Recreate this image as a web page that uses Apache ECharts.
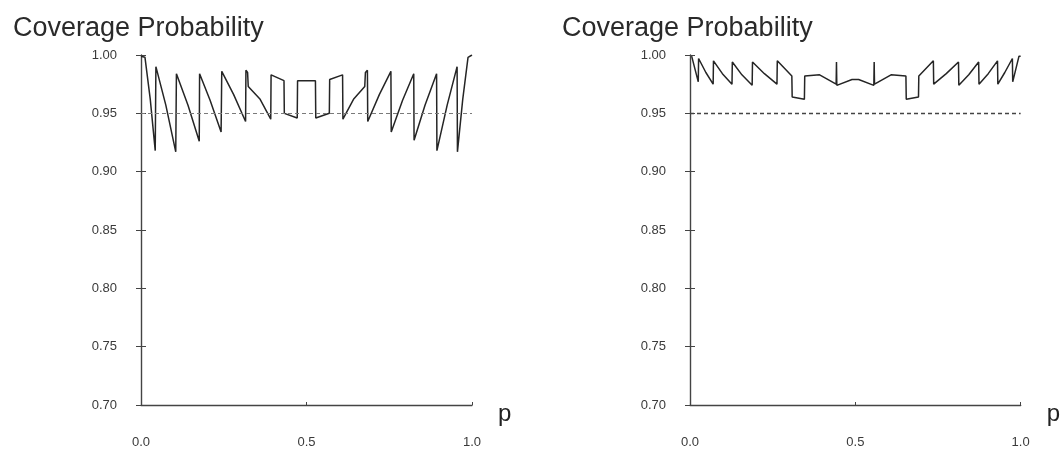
<!DOCTYPE html>
<html>
<head>
<meta charset="utf-8">
<script src="https://cdn.jsdelivr.net/npm/echarts@6/dist/echarts.min.js"></script>
<style>
html,body{margin:0;padding:0;background:#fff;}
#chart{width:1063px;height:455px;}
</style>
</head>
<body>
<div id="chart"></div>
<script>
// ---- data ----
var titleText = "Coverage Probability";
var xTickLabels = ["0.0", "0.5", "1.0"];
var nominal = 0.95;

// left panel: sawtooth coverage curve (p, coverage)
var leftP = [0.000, 0.012, 0.028, 0.043, 0.045, 0.075, 0.105, 0.107, 0.142, 0.176, 0.177, 0.209, 0.242, 0.244,
  0.280, 0.316, 0.317, 0.322, 0.324, 0.360, 0.392, 0.393, 0.432, 0.433, 0.472, 0.473, 0.527, 0.528,
  0.569, 0.570, 0.609, 0.610, 0.642, 0.676, 0.678, 0.684, 0.685, 0.720, 0.755, 0.756, 0.790, 0.824, 0.825,
  0.858, 0.893, 0.894, 0.925, 0.955, 0.956, 0.972, 0.988, 1.000];
var leftCov = [0.999, 0.998, 0.962, 0.918, 0.990, 0.957, 0.917, 0.984, 0.957, 0.926, 0.984, 0.961, 0.934, 0.986,
  0.966, 0.943, 0.987, 0.985, 0.973, 0.962, 0.945, 0.983, 0.978, 0.950, 0.946, 0.978, 0.978, 0.946,
  0.950, 0.979, 0.983, 0.945, 0.962, 0.973, 0.985, 0.987, 0.943, 0.966, 0.986, 0.934, 0.961, 0.984, 0.927,
  0.957, 0.984, 0.918, 0.957, 0.990, 0.917, 0.962, 0.998, 1.000];

// right panel: conservative coverage curve (p, coverage)
var rightP = [0.005, 0.025, 0.026, 0.048, 0.070, 0.071, 0.098, 0.127, 0.128, 0.157, 0.188, 0.189, 0.225, 0.263, 0.264,
  0.308, 0.309, 0.346, 0.347, 0.392, 0.442, 0.443, 0.444, 0.490, 0.510, 0.556, 0.557, 0.558, 0.608,
  0.653, 0.654, 0.691, 0.692, 0.736, 0.737, 0.775, 0.812, 0.813, 0.843, 0.873, 0.874, 0.902, 0.930, 0.931,
  0.952, 0.975, 0.976, 0.995, 1.000];
var rightCov = [0.999, 0.977, 0.997, 0.985, 0.975, 0.995, 0.984, 0.975, 0.994, 0.983, 0.974, 0.994, 0.984, 0.975, 0.995,
  0.982, 0.964, 0.962, 0.982, 0.983, 0.975, 0.994, 0.974, 0.979, 0.979, 0.974, 0.994, 0.975, 0.983,
  0.982, 0.962, 0.964, 0.982, 0.995, 0.975, 0.984, 0.994, 0.974, 0.983, 0.994, 0.975, 0.984, 0.995, 0.975,
  0.985, 0.997, 0.977, 0.999, 0.999];

function pairs(xs, ys){ return xs.map(function(x,i){ return [x, ys[i]]; }); }

var chart = echarts.init(document.getElementById('chart'), null, {renderer:'canvas'});
var textCol = '#3a3a3a';
var axisCol = '#444';
var fontFam = '"Liberation Sans", Arial, Helvetica, sans-serif';

function xAxisCfg(gi){
  return {
    type:'value', gridIndex:gi, min:0, max:1, interval:0.5,
    name:'p', nameLocation:'end', nameGap:26,
    nameTextStyle:{fontSize:24, color:'#222', fontFamily:fontFam, verticalAlign:'top', lineHeight:18, padding:[0,0,0,0]},
    axisLine:{lineStyle:{color:axisCol, width:1.4}},
    axisTick:{inside:true, length:3, lineStyle:{color:axisCol}},
    splitLine:{show:false},
    axisLabel:{margin:31, fontSize:13, color:textCol, fontFamily:fontFam,
      formatter:function(v){ return xTickLabels[Math.round(v/0.5)]; }}
  };
}
function yAxisCfg(gi, inside){
  return {
    type:'value', gridIndex:gi, position:'left', min:0.70, max:1.00, interval:0.05,
    axisLine:{show:!inside, lineStyle:{color:axisCol, width:1.4}},
    axisTick:{inside:inside, length:5, lineStyle:{color:axisCol}},
    splitLine:{show:false},
    axisLabel:{show:!inside, margin:24, fontSize:13, color:textCol, fontFamily:fontFam,
      formatter:function(v){ return v.toFixed(2); }}
  };
}
function lineSeries(xi, yi, data, dashCol, dashW){
  return {
    type:'line', xAxisIndex:xi, yAxisIndex:yi, data:data, symbol:'none',
    lineStyle:{color:'#252525', width:1.5}, animation:false,
    markLine:{silent:true, symbol:'none', label:{show:false},
      lineStyle:{type:[4,3], color:dashCol, width:dashW},
      data:[{yAxis:nominal}]}
  };
}

var option = {
  backgroundColor:'#fff',
  animation:false,
  title:[
    {text:titleText, left:8, top:10, textStyle:{fontSize:27, fontWeight:'normal', color:'#2a2a2a', fontFamily:fontFam}},
    {text:titleText, left:557, top:10, textStyle:{fontSize:27, fontWeight:'normal', color:'#2a2a2a', fontFamily:fontFam}}
  ],
  grid:[
    {left:141, top:55, width:331, height:350},
    {left:690, top:55, width:332, height:350}
  ],
  xAxis:[xAxisCfg(0), xAxisCfg(1)],
  yAxis:[yAxisCfg(0,false), yAxisCfg(0,true), yAxisCfg(1,false), yAxisCfg(1,true)],
  series:[
    lineSeries(0, 0, pairs(leftP, leftCov), '#7a7a7a', 1.1),
    lineSeries(1, 2, pairs(rightP, rightCov), '#444', 1.4)
  ]
};
chart.setOption(option);
</script>
</body>
</html>
